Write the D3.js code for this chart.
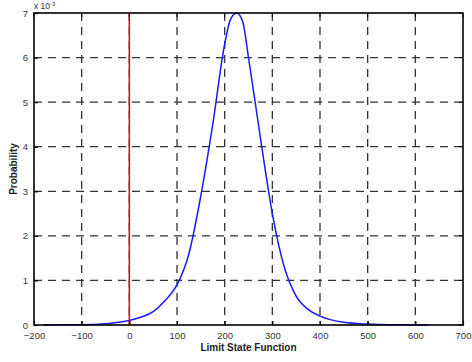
<!DOCTYPE html>
<html><head><meta charset="utf-8">
<script src="https://cdn.jsdelivr.net/npm/d3@7"></script>
<style>body{margin:0;background:#fff}svg{display:block}</style>
</head><body>
<script>
const xTicks = [-200,-100,0,100,200,300,400,500,600,700];
const yTicks = [0,1,2,3,4,5,6,7];
const curveX = [-180,-100,-50,0,25,50,75,100,125,150,175,200,212,225,238,250,275,300,325,350,375,400,450,500,550,628];
const curveY = [0,0.005,0.03,0.1,0.18,0.3,0.55,0.9,1.6,2.9,4.5,6.3,6.85,7.0,6.8,6.0,4.2,2.5,1.3,0.65,0.35,0.2,0.06,0.02,0.005,0];
const limitX = [0,0];
const limitY = [0,7];

const W=472,H=362;
const m={l:34,r:463,t:13,b:325};
const svg=d3.select("body").append("svg").attr("width",W).attr("height",H);
const x=d3.scaleLinear().domain([-200,700]).range([m.l,m.r]);
const y=d3.scaleLinear().domain([0,7]).range([m.b,m.t]);
const font="Arial, 'Liberation Sans', sans-serif";

// grid
const g=svg.append("g");
g.selectAll(".vg").data(xTicks.slice(1,-1)).join("line")
 .attr("x1",d=>x(d)).attr("x2",d=>x(d)).attr("y1",m.t).attr("y2",m.b)
 .attr("stroke","#333").attr("stroke-width",1.3).attr("stroke-dasharray","8,6");
g.selectAll(".hg").data(yTicks.slice(1,-1)).join("line")
 .attr("y1",d=>y(d)).attr("y2",d=>y(d)).attr("x1",m.l).attr("x2",m.r)
 .attr("stroke","#333").attr("stroke-width",1.3).attr("stroke-dasharray","8,6");

// data
const pts=curveX.map((v,i)=>[v,curveY[i]]);
svg.append("path").datum(pts)
 .attr("d",d3.line().x(d=>x(d[0])).y(d=>y(d[1])).curve(d3.curveMonotoneX))
 .attr("fill","none").attr("stroke","#1a1aff").attr("stroke-width",1.5);
svg.append("path").datum(limitX.map((v,i)=>[v,limitY[i]]))
 .attr("d",d3.line().x(d=>x(d[0])).y(d=>y(d[1])))
 .attr("fill","none").attr("stroke","#e00000").attr("stroke-width",1.5);

// axes box
svg.append("rect").attr("x",m.l).attr("y",m.t).attr("width",m.r-m.l).attr("height",m.b-m.t)
 .attr("fill","none").attr("stroke","#000").attr("stroke-width",1.6);

// ticks
const xa=svg.append("g").attr("transform",`translate(0,${m.b})`)
 .call(d3.axisBottom(x).tickValues(xTicks).tickFormat(d3.format("d")).tickSizeInner(-4).tickSizeOuter(0).tickPadding(7));
const ya=svg.append("g").attr("transform",`translate(${m.l},0)`)
 .call(d3.axisLeft(y).tickValues(yTicks).tickFormat(d3.format("d")).tickSizeInner(-4).tickSizeOuter(0).tickPadding(6));
[xa,ya].forEach(a=>{
 a.select(".domain").remove();
 a.selectAll(".tick line").attr("stroke","#000").attr("stroke-width",1.2);
 a.selectAll("text").attr("font-family",font).attr("font-size",9.5).attr("fill","#333");
});
// top/right ticks
svg.append("g").selectAll("line").data(xTicks).join("line")
 .attr("x1",d=>x(d)).attr("x2",d=>x(d)).attr("y1",m.t).attr("y2",m.t+4).attr("stroke","#000");
svg.append("g").selectAll("line").data(yTicks).join("line")
 .attr("y1",d=>y(d)).attr("y2",d=>y(d)).attr("x1",m.r).attr("x2",m.r-4).attr("stroke","#000");

// exponent
const ex=svg.append("text").attr("x",34).attr("y",9).attr("font-family",font).attr("font-size",8.5).attr("fill","#333");
ex.append("tspan").text("x 10");
ex.append("tspan").attr("dy",-3).attr("font-size",6).text("-3");

// labels
svg.append("text").attr("x",(m.l+m.r)/2).attr("y",351).attr("text-anchor","middle")
 .attr("font-family",font).attr("font-size",10).attr("font-weight","bold").attr("fill","#222")
 .text("Limit State Function");
svg.append("text").attr("transform",`translate(17,${(m.t+m.b)/2}) rotate(-90)`).attr("text-anchor","middle")
 .attr("font-family",font).attr("font-size",10).attr("font-weight","bold").attr("fill","#222")
 .text("Probability");
</script>
</body></html>
